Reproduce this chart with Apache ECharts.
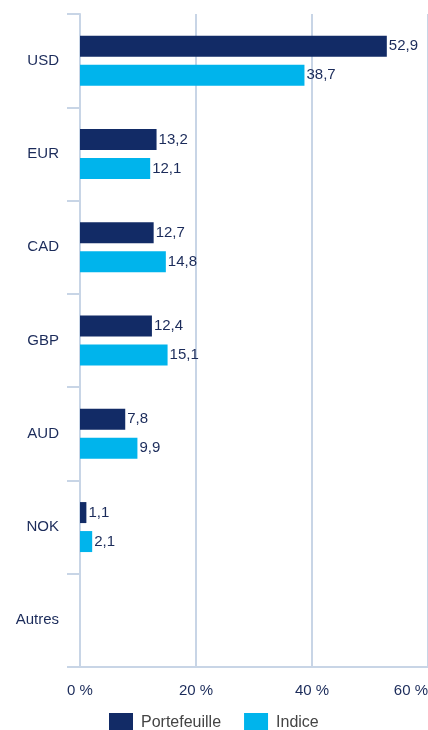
<!DOCTYPE html>
<html>
<head>
<meta charset="utf-8">
<title>Devises</title>
<style>
html,body{margin:0;padding:0;background:#fff;overflow:hidden;}
#main{width:428px;height:730px;}
</style>
</head>
<body>
<div id="main"></div>
<script src="https://cdn.jsdelivr.net/npm/echarts@6/dist/echarts.min.js"></script>
<script>
// données
var devises = ['USD', 'EUR', 'CAD', 'GBP', 'AUD', 'NOK', 'Autres'];
var portefeuille = [52.9, 13.2, 12.7, 12.4, 7.8, 1.1, null];
var indice = [38.7, 12.1, 14.8, 15.1, 9.9, 2.1, null];
var xTicks = [0, 20, 40, 60];

var navy = '#122b66';
var cyan = '#00b4ec';
var txt = '#1b2b5a';
var line = '#c8d5e6';
var font = 'Liberation Sans, Arial, sans-serif';

function virgule(v) {
    return String(v).replace('.', ',');
}

var myChart = echarts.init(document.getElementById('main'));
var option = {
    animation: false,
    textStyle: {fontFamily: font},
    grid: {left: 80, width: 348, top: 14, bottom: 63, containLabel: false, outerBoundsMode: 'none'},
    legend: {
        data: ['Portefeuille', 'Indice'],
        top: 713,
        left: 109,
        padding: 0,
        itemWidth: 24,
        itemHeight: 20,
        itemGap: 23,
        icon: 'rect',
        textStyle: {color: '#444', fontSize: 16, fontFamily: font, padding: [0, 0, 0, 3]}
    },
    xAxis: {
        type: 'value',
        min: xTicks[0],
        max: xTicks[xTicks.length - 1],
        interval: 20,
        axisLine: {show: true, lineStyle: {color: line, width: 2}},
        axisTick: {show: false},
        splitLine: {show: true, lineStyle: {color: line, width: 2}},
        axisLabel: {
            color: txt, fontSize: 15, margin: 16,
            alignMaxLabel: 'right',
            formatter: function (v) { return v + ' %'; }
        }
    },
    yAxis: {
        type: 'category',
        inverse: true,
        data: devises,
        axisLine: {show: true, lineStyle: {color: line, width: 2}},
        axisTick: {show: true, length: 13, lineStyle: {color: line, width: 2}},
        axisLabel: {color: txt, fontSize: 15, margin: 21}
    },
    series: [{
        name: 'Portefeuille',
        type: 'bar',
        data: portefeuille,
        barWidth: 21,
        barGap: '38%',
        itemStyle: {color: navy},
        label: {
            show: true, position: 'right', distance: 2,
            color: txt, fontSize: 15,
            formatter: function (p) { return virgule(p.value); }
        }
    }, {
        name: 'Indice',
        type: 'bar',
        data: indice,
        barWidth: 21,
        itemStyle: {color: cyan},
        label: {
            show: true, position: 'right', distance: 2,
            color: txt, fontSize: 15,
            formatter: function (p) { return virgule(p.value); }
        }
    }]
};
myChart.setOption(option);
</script>
</body>
</html>
